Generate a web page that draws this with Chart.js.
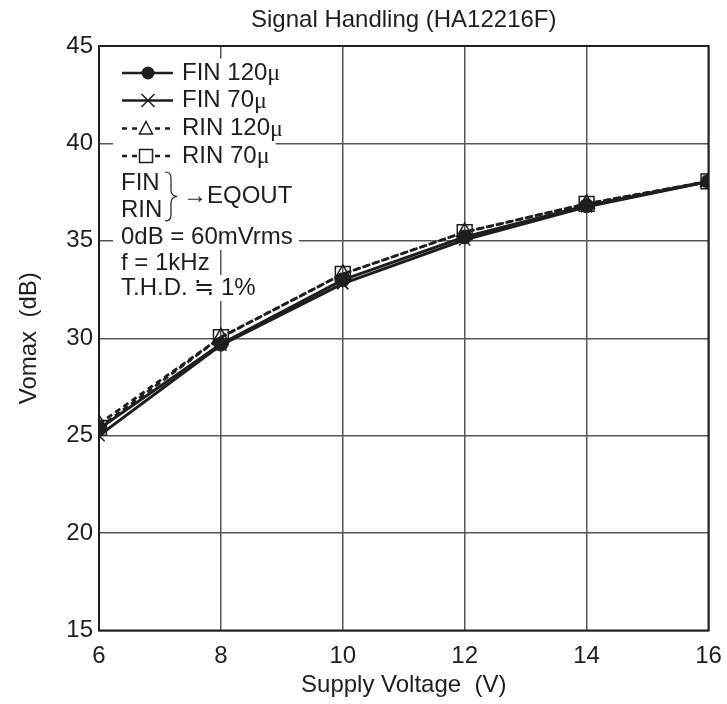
<!DOCTYPE html>
<html>
<head>
<meta charset="utf-8">
<script src="https://cdn.jsdelivr.net/npm/chart.js"></script>
<style>
html,body{margin:0;padding:0;background:#fff;}
#wrap{width:727px;height:704px;}
</style>
</head>
<body>
<div id="wrap"><canvas id="grafico" width="727" height="704"></canvas></div>
<script>
// dados
const tensoes = [6, 8, 10, 12, 14, 16];
const fin120 = [25.35, 29.7, 33.0, 35.2, 36.8, 38.05];
const fin70 = [25.0, 29.65, 32.8, 35.05, 36.75, 38.05];
const rin120 = [25.6, 30.05, 33.3, 35.45, 36.9, 38.05];
const rin70 = [25.4, 30.05, 33.3, 35.45, 36.9, 38.05];
const xTicks = [6, 8, 10, 12, 14, 16];
const yTicks = [15, 20, 25, 30, 35, 40, 45];
const nomes = ["FIN 120", "FIN 70", "RIN 120", "RIN 70"];
const notas = ["0dB = 60mVrms", "f = 1kHz", "T.H.D. \u2252 1%"];
const titulo = "Signal Handling (HA12216F)";
const tituloX = "Supply Voltage  (V)";
const tituloY = "Vomax  (dB)";

const INK = "#1e1e1e";
const FAMILY = '"Liberation Sans", Arial, sans-serif';
const FONT = '24px ' + FAMILY;
const MU_FONT = '24px "Liberation Serif", "DejaVu Serif", serif';

function serie(valores){
return tensoes.map((v,i)=>({x:v,y:valores[i]}));
}

function marca(ctx,tipo,x,y){
ctx.save();
ctx.setLineDash([]);
ctx.lineWidth=1.5;
ctx.strokeStyle=INK;
ctx.fillStyle=INK;
ctx.beginPath();
if(tipo==="circle"){
ctx.arc(x,y,6.5,0,Math.PI*2);
ctx.fill();
}else if(tipo==="crossRot"){
const r=6.5;
ctx.moveTo(x-r,y-r);ctx.lineTo(x+r,y+r);
ctx.moveTo(x+r,y-r);ctx.lineTo(x-r,y+r);
ctx.stroke();
}else if(tipo==="triangle"){
ctx.fillStyle="#fff";
ctx.moveTo(x,y-7);ctx.lineTo(x+6.5,y+5.5);ctx.lineTo(x-6.5,y+5.5);ctx.closePath();
ctx.fill();ctx.stroke();
}else{
ctx.fillStyle="#fff";
ctx.rect(x-6.5,y-6.5,13,13);
ctx.fill();ctx.stroke();
}
ctx.restore();
}

const moldura = {
id:"moldura",
beforeDatasetsDraw(chart){
const a=chart.chartArea, ctx=chart.ctx;
ctx.save();
ctx.strokeStyle=INK;
ctx.lineWidth=2;
ctx.strokeRect(a.left,a.top,a.right-a.left,a.bottom-a.top);
ctx.restore();
}
};

const legenda = {
id:"legenda",
afterDraw(chart){
const ctx=chart.ctx, a=chart.chartArea;
ctx.save();
ctx.font=FONT;
ctx.fillStyle=INK;
ctx.textAlign="center";
ctx.textBaseline="alphabetic";
const cx=(a.left+a.right)/2;
ctx.fillText(titulo,cx,27);
ctx.fillText(tituloX,cx,692);
ctx.save();
ctx.translate(36,(a.top+a.bottom)/2);
ctx.rotate(-Math.PI/2);
ctx.fillText(tituloY,0,0);
ctx.restore();

// linhas da legenda
const tipos=["circle","crossRot","triangle","rect"];
const linhas=[73,100.5,128.5,156];
ctx.textAlign="left";
ctx.textBaseline="middle";
linhas.forEach((y,i)=>{
ctx.font=FONT;
const w=ctx.measureText(nomes[i]).width;
ctx.font=MU_FONT;
const wm=ctx.measureText("\u03bc").width;
ctx.fillStyle="#fff";
ctx.fillRect(113,y-14.5,182+w+wm+6-113,29);
ctx.strokeStyle=INK;
ctx.lineWidth=2.5;
ctx.beginPath();
if(i<2){
ctx.moveTo(122,y);ctx.lineTo(173,y);
}else{
[[122,127],[132,137],[155,160],[165,170]].forEach(s=>{ctx.moveTo(s[0],y);ctx.lineTo(s[1],y);});
}
ctx.stroke();
marca(ctx,tipos[i],i<2?148:146,y);
ctx.fillStyle=INK;
ctx.font=FONT;
ctx.fillText(nomes[i],182,y);
ctx.font=MU_FONT;
ctx.fillText("\u03bc",182+w,y+1);
});

// FIN / RIN -> EQOUT
ctx.font=FONT;
ctx.fillStyle="#fff";
ctx.fillRect(113,170,186,54);
ctx.fillStyle=INK;
ctx.fillText("FIN",121,183);
ctx.fillText("RIN",121,210);
ctx.fillText("\u2192EQOUT",183,196.5);
ctx.strokeStyle=INK;
ctx.lineWidth=1.2;
ctx.beginPath();
ctx.moveTo(165,172);
ctx.quadraticCurveTo(171,172,171,178);
ctx.lineTo(171,190);
ctx.quadraticCurveTo(171,196,177,196.5);
ctx.quadraticCurveTo(171,197,171,203);
ctx.lineTo(171,215);
ctx.quadraticCurveTo(171,221,165,221);
ctx.stroke();

// notas
const ys=[237,263,288];
notas.forEach((t,i)=>{
const w=ctx.measureText(t).width;
ctx.fillStyle="#fff";
ctx.fillRect(113,ys[i]-13,121+w+6-113,26);
ctx.fillStyle=INK;
ctx.fillText(t,121,ys[i]);
});
ctx.restore();
}
};

new Chart(document.getElementById("grafico"),{
type:"line",
data:{
datasets:[
{label:"FIN 120",data:serie(fin120),borderColor:INK,borderWidth:3,pointStyle:"circle",pointRadius:7,pointBackgroundColor:INK,pointBorderColor:INK,pointBorderWidth:1},
{label:"FIN 70",data:serie(fin70),borderColor:INK,borderWidth:3,pointStyle:"crossRot",pointRadius:8,pointBorderColor:INK,pointBorderWidth:1.5},
{label:"RIN 120",data:serie(rin120),borderColor:INK,borderWidth:2.8,borderDash:[6,4],pointStyle:"triangle",pointRadius:9,pointBackgroundColor:"transparent",pointBorderColor:INK,pointBorderWidth:1.5},
{label:"RIN 70",data:serie(rin70),borderColor:INK,borderWidth:2.8,borderDash:[6,4],pointStyle:"rect",pointRadius:10.5,pointBackgroundColor:"transparent",pointBorderColor:INK,pointBorderWidth:1.5}
]
},
options:{
responsive:false,
devicePixelRatio:1,
animation:false,
layout:{padding:{top:46,right:18.5,left:0,bottom:0}},
plugins:{legend:{display:false},tooltip:{enabled:false},title:{display:false}},
elements:{line:{tension:0,fill:false}},
scales:{
x:{
type:"linear",min:6,max:16,
afterBuildTicks:s=>{s.ticks=xTicks.map(v=>({value:v}));},
afterFit:s=>{s.height=73.5;s.paddingLeft=0;s.paddingRight=0;},
grid:{color:"#555",lineWidth:1.5,drawTicks:false},
border:{display:false},
ticks:{color:INK,font:{family:FAMILY,size:24},padding:11,maxRotation:0}
},
y:{
type:"linear",min:15,max:45,
afterBuildTicks:s=>{s.ticks=yTicks.map(v=>({value:v}));},
afterFit:s=>{s.width=99;s.paddingTop=0;s.paddingBottom=0;},
grid:{color:"#555",lineWidth:1.5,drawTicks:false},
border:{display:false},
ticks:{color:INK,font:{family:FAMILY,size:24},padding:6}
}
}
},
plugins:[moldura,legenda]
});
</script>
</body>
</html>
